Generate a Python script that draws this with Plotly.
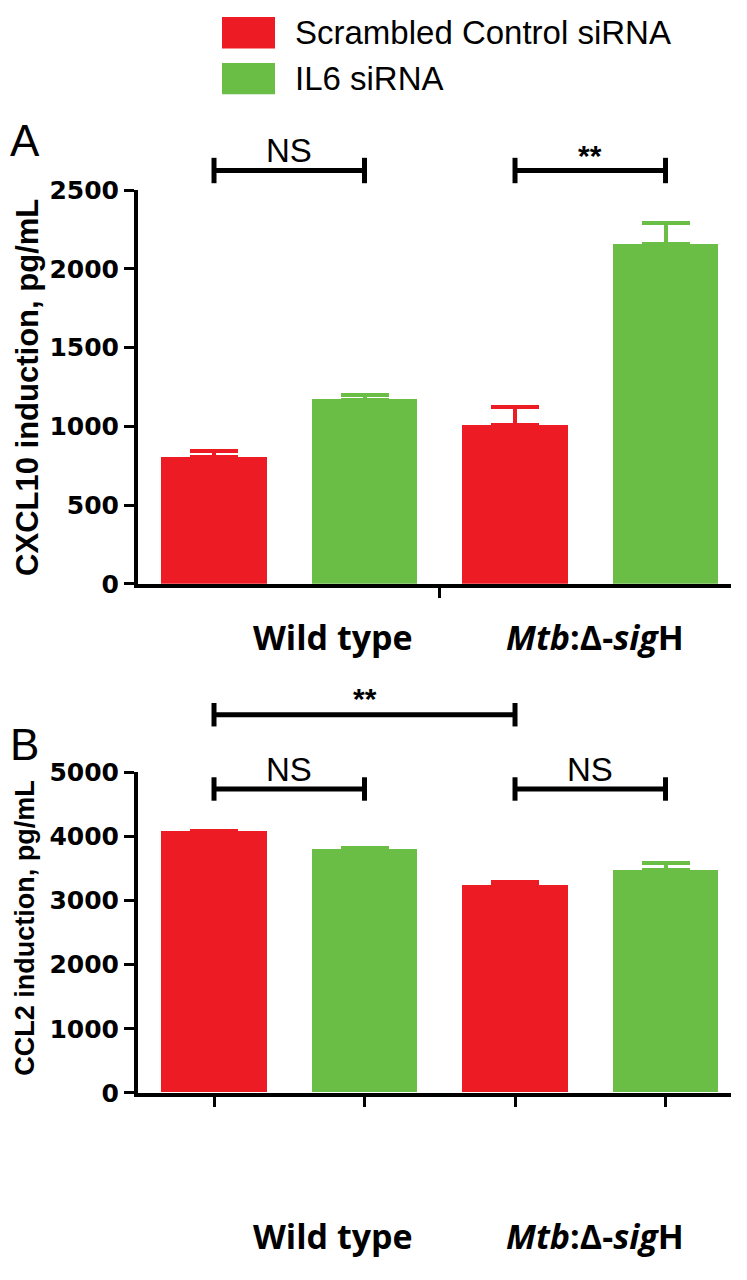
import plotly.graph_objects as go

# ---------------- data ----------------
groups = ["Wild type", "Mtb:Δ-sigH"]
group_labels = ["<b>Wild type</b>", "<b><i>Mtb</i>:Δ-<i>sig</i>H</b>"]
series = ["Scrambled Control siRNA", "IL6 siRNA"]
colors = ["#ED1C24", "#6ABD45"]

# Panel A: CXCL10 (pg/mL)
cxcl10_scr = [805, 1011]
cxcl10_scr_err = [41, 114]
cxcl10_il6 = [1170, 2159]
cxcl10_il6_err = [31, 134]

# Panel B: CCL2 (pg/mL)
ccl2_scr = [4072, 3240]
ccl2_scr_err = [20, 51]
ccl2_il6 = [3802, 3475]
ccl2_il6_err = [20, 117]

ticks_A = [0, 500, 1000, 1500, 2000, 2500]
ticks_B = [0, 1000, 2000, 3000, 4000, 5000]

# page body has an 8px margin: size the figure so it fits the 747x1280 window
OFF = 8
W, H = 747 - 2 * OFF, 1280 - 2 * OFF


def px(xp):
    return (xp - OFF) / W


def py(yp):
    return 1 - (yp - OFF) / H


fig = go.Figure()

panels = [
    ("x", "y", [cxcl10_scr, cxcl10_il6], [cxcl10_scr_err, cxcl10_il6_err]),
    ("x2", "y2", [ccl2_scr, ccl2_il6], [ccl2_scr_err, ccl2_il6_err]),
]
for xa, ya, vals, errs in panels:
    for s in range(len(series)):
        xs = [2 * g + s for g in range(len(groups))]
        fig.add_trace(go.Bar(
            x=xs, y=vals[s], width=0.70, name=series[s],
            marker=dict(color=colors[s], line=dict(width=0)),
            error_y=dict(type="data", array=errs[s], arrayminus=[0] * len(groups),
                         symmetric=False, color=colors[s], thickness=4, width=24),
            xaxis=xa, yaxis=ya, showlegend=False,
        ))

xdom = [px(138), px(731)]
xrange = [-0.505, 3.435]
axis_common = dict(showgrid=False, zeroline=False, showline=True, linecolor="black",
                   linewidth=4, ticks="outside", tickcolor="black", tickwidth=3,
                   ticklen=10)
tickfont = dict(family="DejaVu Sans", size=25, color="black", weight="bold")

fig.update_layout(
    width=W, height=H,
    margin=dict(l=0, r=0, t=0, b=0),
    paper_bgcolor="white", plot_bgcolor="white",
    bargap=0,
    xaxis=dict(domain=xdom, range=xrange, anchor="y", tickvals=[1.5], ticktext=[""],
               **axis_common),
    yaxis=dict(domain=[py(583), py(180)], range=[0, 2500], anchor="x",
               tickvals=ticks_A, tickfont=tickfont, **axis_common),
    xaxis2=dict(domain=xdom, range=xrange, anchor="y2", tickvals=[0, 1, 2, 3],
                ticktext=["", "", "", ""], **axis_common),
    yaxis2=dict(domain=[py(1104), py(776)], range=[0, 5000], anchor="x2",
                tickvals=ticks_B, tickfont=tickfont, **axis_common),
)

shapes = []
annotations = []


def bracket(xref, x0, x1, ymid, half, label, label_y, bold):
    line = dict(color="black", width=5)
    shapes.append(dict(type="line", xref=xref, yref="paper", x0=x0, x1=x1,
                       y0=py(ymid), y1=py(ymid), line=line))
    for xx in (x0, x1):
        shapes.append(dict(type="line", xref=xref, yref="paper", x0=xx, x1=xx,
                           y0=py(ymid - half), y1=py(ymid + half), line=line))
    annotations.append(dict(xref=xref, yref="paper", x=(x0 + x1) / 2, y=py(label_y),
                            text=("<b>%s</b>" % label) if bold else label,
                            showarrow=False, xanchor="center", yanchor="middle",
                            font=dict(family="Liberation Sans", size=33 if not bold else 30,
                                      color="black")))


# Panel A brackets
bracket("x", 0, 1, 160, 13, "NS", 140, False)
bracket("x", 2, 3, 160, 13, "**", 145, True)
# Panel B brackets
bracket("x2", 0, 2, 717, 12, "**", 700, True)
bracket("x2", 0, 1, 793, 12, "NS", 773, False)
bracket("x2", 2, 3, 793, 12, "NS", 773, False)

# custom legend
leg_y = [(3, 35), (50, 82)]
for s in range(len(series)):
    y0, y1 = leg_y[s]
    shapes.append(dict(type="rect", xref="paper", yref="paper", x0=px(222), x1=px(275),
                       y0=py(y1), y1=py(y0), fillcolor=colors[s], line=dict(width=0)))
    annotations.append(dict(xref="paper", yref="paper", x=px(293), y=py((y0 + y1) / 2),
                            text=series[s], showarrow=False, xanchor="left",
                            yanchor="middle",
                            font=dict(family="Liberation Sans", size=33, color="black")))

# panel letters
annotations.append(dict(xref="paper", yref="paper", x=0, y=py(129), text="A",
                        showarrow=False, xanchor="left", yanchor="middle",
                        font=dict(family="Liberation Sans", size=44, color="black")))
annotations.append(dict(xref="paper", yref="paper", x=0, y=py(747), text="B",
                        showarrow=False, xanchor="left", yanchor="middle",
                        font=dict(family="Liberation Sans", size=44, color="black")))

# y-axis titles
annotations.append(dict(xref="paper", yref="paper", x=0, y=py(382),
                        text="<b>CXCL10 induction, pg/mL</b>", textangle=-90,
                        showarrow=False, xanchor="left", yanchor="middle",
                        font=dict(family="Liberation Sans", size=31, color="black")))
annotations.append(dict(xref="paper", yref="paper", x=0, y=py(936),
                        text="<b>CCL2 induction, pg/mL</b>", textangle=-90,
                        showarrow=False, xanchor="left", yanchor="middle",
                        font=dict(family="Liberation Sans", size=27, color="black")))

# category labels (offset to the right as in the original figure)
label_offsets = [0.79, 0.53]
for g in range(len(groups)):
    annotations.append(dict(xref="x", yref="paper", x=2 * g + label_offsets[g], y=py(637),
                            text=group_labels[g], showarrow=False, xanchor="center",
                            yanchor="middle",
                            font=dict(family="Open Sans", size=34, color="black")))
    annotations.append(dict(xref="x2", yref="paper", x=2 * g + label_offsets[g], y=py(1250),
                            text=group_labels[g], showarrow=False, xanchor="center",
                            yanchor="middle",
                            font=dict(family="Open Sans", size=34, color="black")))

fig.update_layout(shapes=shapes, annotations=annotations)

fig.write_html("out.html")
